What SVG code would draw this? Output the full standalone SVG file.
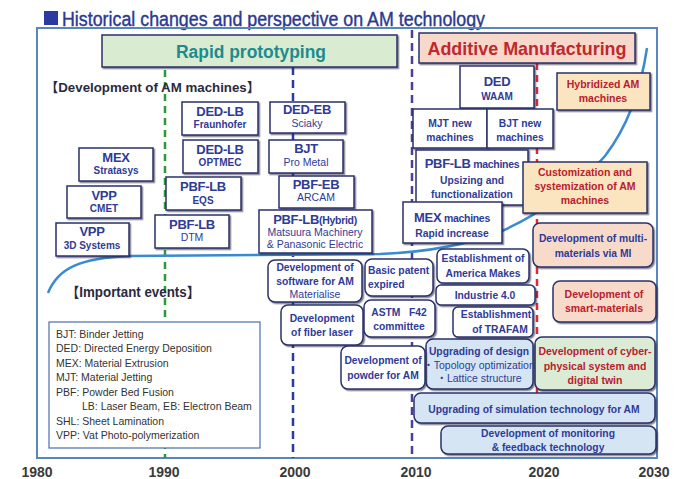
<svg xmlns="http://www.w3.org/2000/svg" width="688" height="479" viewBox="0 0 688 479">
<defs>
<filter id="sh" x="-10%" y="-10%" width="130%" height="140%"><feDropShadow dx="1.4" dy="1.4" stdDeviation="0.6" flood-color="#1a1a40" flood-opacity="0.55"/></filter>
<style>
text{font-family:"Liberation Sans","Noto Sans CJK JP",Arial,sans-serif}
.bx{fill:#fff;stroke:#2a3168;stroke-width:1.5;filter:url(#sh)}
.tl{fill:#2f3b96;font-weight:bold;font-size:13px;text-anchor:middle;letter-spacing:-0.3px}
.sb{fill:#2f3b96;font-weight:bold;font-size:10px;text-anchor:middle}
.sr{fill:#2f3b96;font-size:10.5px;text-anchor:middle}
.ev{fill:#2f3b96;font-weight:bold;font-size:10.3px;text-anchor:middle}
.rd{fill:#b8202e;font-weight:bold;font-size:10.5px;text-anchor:middle}
.lg{fill:#333;font-size:10.5px}
.ax{fill:#3a3a3a;font-weight:bold;font-size:14px;text-anchor:middle}
</style>
</defs>
<rect width="688" height="479" fill="#fff"/>
<!-- title -->
<g id="title">
<rect x="44" y="11" width="14" height="14" fill="#2b3aa0"/>
<text x="62" y="25.5" font-size="20" fill="#2b3990" stroke="#2b3990" stroke-width="0.4" textLength="423" lengthAdjust="spacingAndGlyphs">Historical changes and perspective on AM technology</text>
</g>
<!-- frame -->
<rect id="frame" x="37" y="28" width="620" height="430" fill="none" stroke="#5a86bd" stroke-width="2"/>
<!-- connectors: timeline lines and growth curve -->
<g id="connectors" fill="none">
<line x1="165" y1="70" x2="165" y2="458" stroke="#2a9a3a" stroke-width="2.5" stroke-dasharray="7 5"/>
<line x1="293" y1="67" x2="293" y2="458" stroke="#2b3aa0" stroke-width="2.5" stroke-dasharray="8 5"/>
<line x1="412" y1="30" x2="412" y2="458" stroke="#4a3f9a" stroke-width="2.5" stroke-dasharray="8 5"/>
<line x1="537" y1="63" x2="537" y2="420" stroke="#e8262e" stroke-width="2.5" stroke-dasharray="7 5"/>
<path d="M48,293 C58,268 80,258 130,256 L380,254 C430,252 470,244 502,231 C540,214 580,185 605,156 C625,130 640,95 647,48" stroke="#3a8ad0" stroke-width="2.5"/>
</g>
<!-- headers -->
<g id="rapid-prototyping">
<rect x="102" y="35" width="295" height="32" fill="#d9ecd2" stroke="#2a3168" stroke-width="1.5" filter="url(#sh)"/>
<text x="251" y="58" font-size="18" font-weight="bold" fill="#1d8b8e" text-anchor="middle" textLength="150" lengthAdjust="spacingAndGlyphs">Rapid prototyping</text>
</g>
<g id="additive-manufacturing">
<rect x="419" y="33" width="216" height="30" fill="#f9d8cc" stroke="#2a3168" stroke-width="1.5" filter="url(#sh)"/>
<text x="527" y="55" font-size="18.5" font-weight="bold" fill="#c0282d" text-anchor="middle" textLength="199" lengthAdjust="spacingAndGlyphs">Additive Manufacturing</text>
</g>
<text x="45" y="92" font-size="13" font-weight="bold" fill="#2a2a40" textLength="215" lengthAdjust="spacingAndGlyphs">【Development of AM machines】</text>
<text x="66" y="297" font-size="14" font-weight="bold" fill="#2a2a40" textLength="134" lengthAdjust="spacingAndGlyphs">【Important events】</text>
<!-- machine boxes -->
<g id="mex-stratasys"><rect class="bx" x="79" y="148" width="74" height="33"/><text class="tl" x="116" y="162">MEX</text><text class="sb" x="116" y="174">Stratasys</text></g>
<g id="vpp-cmet"><rect class="bx" x="67" y="186" width="74" height="32"/><text class="tl" x="104" y="200">VPP</text><text class="sb" x="104" y="212">CMET</text></g>
<g id="vpp-3d"><rect class="bx" x="56" y="223" width="73" height="33"/><text class="tl" x="92" y="236">VPP</text><text class="sb" x="92" y="249">3D Systems</text></g>
<g id="dedlb-fraunhofer"><rect class="bx" x="182" y="102" width="76" height="33"/><text class="tl" x="220" y="116">DED-LB</text><text class="sb" x="220" y="128">Fraunhofer</text></g>
<g id="dedlb-optmec"><rect class="bx" x="183" y="140" width="75" height="33"/><text class="tl" x="220" y="154">DED-LB</text><text class="sb" x="220" y="166">OPTMEC</text></g>
<g id="pbflb-eqs"><rect class="bx" x="166" y="177" width="75" height="33"/><text class="tl" x="203" y="191">PBF-LB</text><text class="sb" x="203" y="204">EQS</text></g>
<g id="pbflb-dtm"><rect class="bx" x="155" y="215" width="74" height="33"/><text class="tl" x="192" y="229">PBF-LB</text><text class="sr" x="192" y="241">DTM</text></g>
<g id="dedeb-sciaky"><rect class="bx" x="270" y="102" width="75" height="31"/><text class="tl" x="307" y="114">DED-EB</text><text class="sr" x="307" y="127">Sciaky</text></g>
<g id="bjt-prometal"><rect class="bx" x="269" y="140" width="74" height="33"/><text class="tl" x="306" y="153">BJT</text><text class="sr" x="306" y="166">Pro Metal</text></g>
<g id="pbfeb-arcam"><rect class="bx" x="279" y="176" width="75" height="32"/><text class="tl" x="316" y="189">PBF-EB</text><text class="sr" x="316" y="201">ARCAM</text></g>
<g id="pbflb-hybrid"><rect class="bx" x="259" y="210" width="113" height="43"/><text class="tl" x="315" y="224">PBF-LB<tspan font-size="10.5">(Hybrid)</tspan></text><text class="sr" x="315" y="236" font-size="9.5">Matsuura Machinery</text><text class="sr" x="315" y="248" font-size="9.5">&amp; Panasonic Electric</text></g>
<g id="ded-waam"><rect class="bx" x="460" y="66" width="74" height="42"/><text class="tl" x="497" y="86">DED</text><text class="sb" x="497" y="100">WAAM</text></g>
<g id="mjt-new"><rect class="bx" x="413" y="109" width="74" height="39"/><text class="ev" x="450" y="127">MJT new</text><text class="ev" x="450" y="141">machines</text></g>
<g id="bjt-new"><rect class="bx" x="487" y="109" width="66" height="39"/><text class="ev" x="520" y="127">BJT new</text><text class="ev" x="520" y="141">machines</text></g>
<g id="pbflb-machines"><rect class="bx" x="416" y="150" width="112" height="55"/><text class="tl" x="472" y="168" font-size="14">PBF-LB<tspan font-size="10.5"> machines</tspan></text><text class="ev" x="472" y="184">Upsizing and</text><text class="ev" x="472" y="198">functionalization</text></g>
<g id="mex-machines"><rect class="bx" x="403" y="202" width="99" height="41"/><text class="tl" x="452" y="222" font-size="14">MEX<tspan font-size="10.5"> machines</tspan></text><text class="ev" x="452" y="237">Rapid increase</text></g>
<g id="customization"><rect class="bx" x="523" y="162" width="124" height="51" style="fill:#fbe5c0"/><text class="rd" x="585" y="176">Customization and</text><text class="rd" x="585" y="190">systemization of  AM</text><text class="rd" x="585" y="204">machines</text></g>
<g id="hybridized"><rect class="bx" x="557" y="73" width="93" height="37" style="fill:#fbe5c0"/><text class="rd" x="603" y="88">Hybridized AM</text><text class="rd" x="603" y="102">machines</text></g>
<!-- perspective boxes -->
<g id="multi-materials"><rect class="bx" x="533" y="223" width="120" height="44" rx="7" style="fill:#f8dacb"/><text class="ev" x="593" y="242" font-size="11">Development of multi-</text><text class="ev" x="593" y="257" font-size="11">materials via MI</text></g>
<g id="smart-materials"><rect class="bx" x="553" y="281" width="103" height="41" rx="7" style="fill:#f8dacb"/><text class="rd" x="604" y="298">Development of</text><text class="rd" x="604" y="312">smart-materials</text></g>
<g id="cyber-physical"><rect class="bx" x="535" y="337" width="120" height="53" rx="7" style="fill:#dcebd6"/><text class="rd" x="595" y="355">Development of cyber-</text><text class="rd" x="595" y="370">physical system and</text><text class="rd" x="595" y="384">digital twin</text></g>
<g id="upgrading-design"><rect class="bx" x="426" y="339" width="107" height="50" rx="7" style="fill:#d5e5f3"/><text class="ev" x="479" y="355" font-size="10">Upgrading of design</text><text class="sr" x="479" y="369" font-size="9.1">・Topology optimization</text><text class="sr" x="479" y="382" font-size="9.1">・Lattice structure</text></g>
<g id="simulation"><rect class="bx" x="414" y="393" width="241" height="30" rx="7" style="fill:#d5e5f3"/><text class="ev" x="534" y="413" font-size="11">Upgrading of simulation technology for AM</text></g>
<g id="monitoring"><rect class="bx" x="441" y="426" width="215" height="28" rx="7" style="fill:#d5e5f3"/><text class="ev" x="548" y="437" font-size="10.5">Development of monitoring</text><text class="ev" x="548" y="451" font-size="10.5">&amp; feedback technology</text></g>
<!-- events -->
<g id="software"><rect class="bx" x="268" y="260" width="94" height="42" rx="7"/><text class="ev" x="315" y="271">Development of</text><text class="ev" x="315" y="285">software for AM</text><text class="sr" x="315" y="298">Materialise</text></g>
<g id="basic-patent"><rect class="bx" x="365" y="259" width="68" height="37" rx="7"/><text class="ev" x="368" y="274" style="text-anchor:start" font-size="9.8">Basic patent</text><text class="ev" x="368" y="288" style="text-anchor:start" font-size="9.8">expired</text></g>
<g id="fiber-laser"><rect class="bx" x="281" y="305" width="82" height="40" rx="7"/><text class="ev" x="322" y="322">Development</text><text class="ev" x="322" y="336">of fiber laser</text></g>
<g id="astm"><rect class="bx" x="364" y="300" width="71" height="37" rx="7"/><text class="ev" x="399" y="316" xml:space="preserve">ASTM   F42</text><text class="ev" x="399" y="330">committee</text></g>
<g id="powder"><rect class="bx" x="341" y="346" width="84" height="43" rx="7"/><text class="ev" x="383" y="364" font-size="10">Development of</text><text class="ev" x="383" y="379" font-size="10">powder for AM</text></g>
<g id="america-makes"><rect class="bx" x="437" y="249" width="92" height="34" rx="6"/><text class="ev" x="483" y="262">Establishment of</text><text class="ev" x="483" y="277">America Makes</text></g>
<g id="industrie"><rect class="bx" x="436" y="285" width="99" height="20" rx="5"/><text class="ev" x="485" y="299" font-size="12">Industrie 4.0</text></g>
<g id="trafam"><rect class="bx" x="453" y="307" width="80" height="30" rx="5"/><text class="ev" x="496" y="318">Establishment</text><text class="ev" x="500" y="333">of TRAFAM</text></g>
<!-- legend -->
<g id="legend">
<rect x="49" y="322" width="211" height="126" fill="#fff" stroke="#4a70a8" stroke-width="1.2"/>
<text class="lg" x="56" y="338">BJT: Binder Jetting</text>
<text class="lg" x="56" y="352">DED: Directed Energy Deposition</text>
<text class="lg" x="56" y="367">MEX: Material Extrusion</text>
<text class="lg" x="56" y="381">MJT: Material Jetting</text>
<text class="lg" x="56" y="396">PBF: Powder Bed Fusion</text>
<text class="lg" x="82" y="410">LB: Laser Beam, EB: Electron Beam</text>
<text class="lg" x="56" y="425">SHL: Sheet Lamination</text>
<text class="lg" x="56" y="439">VPP: Vat Photo-polymerization</text>
</g>
<!-- axis -->
<g id="axis">
<text class="ax" x="37" y="477">1980</text>
<text class="ax" x="164" y="477">1990</text>
<text class="ax" x="295" y="477">2000</text>
<text class="ax" x="416" y="477">2010</text>
<text class="ax" x="544" y="477">2020</text>
<text class="ax" x="654" y="477">2030</text>
</g>
</svg>
